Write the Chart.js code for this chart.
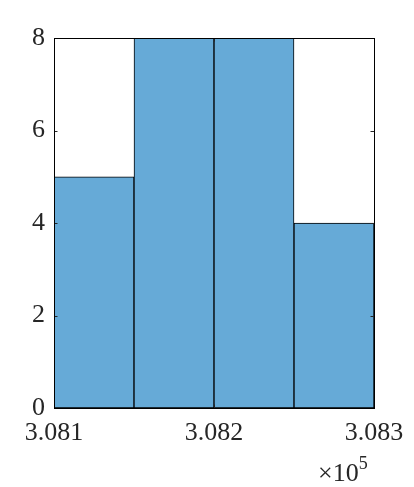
<!DOCTYPE html>
<html>
<head>
<meta charset="utf-8">
<script src="https://cdn.jsdelivr.net/npm/chart.js@4/dist/chart.umd.min.js"></script>
<style>
html,body{margin:0;padding:0;background:#fff;}
#wrap{width:414px;height:487px;}
</style>
</head>
<body>
<div id="wrap"><canvas id="c" width="414" height="487"></canvas></div>
<script>
// Histogram data (x in raw units; axis shows x / 1e5)
const binEdges = [308100, 308150, 308200, 308250, 308300];
const counts = [5, 8, 8, 4];
const yTicks = [0, 2, 4, 6, 8];
const xTicks = [308100, 308200, 308300];
const exponentLabel = ['\u00d710', '5'];

const points = counts.map((c, i) => ({ x: (binEdges[i] + binEdges[i + 1]) / 2, y: c }));
const FONT = "Liberation Serif, Times New Roman, serif";

const boxPlugin = {
  id: 'box',
  afterDatasetsDraw(chart) {
    const { ctx, chartArea: a, scales } = chart;
    ctx.save();
    ctx.strokeStyle = '#262626';
    ctx.lineWidth = 1;
    const tl = 3.5;
    ctx.beginPath();
    yTicks.forEach(v => {
      const y = Math.round(scales.y.getPixelForValue(v)) + 0.5;
      ctx.moveTo(a.left, y); ctx.lineTo(a.left + tl, y);
      ctx.moveTo(a.right, y); ctx.lineTo(a.right - tl, y);
    });
    xTicks.forEach(v => {
      const x = Math.round(scales.x.getPixelForValue(v)) + 0.5;
      ctx.moveTo(x, a.bottom); ctx.lineTo(x, a.bottom - tl);
      ctx.moveTo(x, a.top); ctx.lineTo(x, a.top + tl);
    });
    ctx.stroke();
    ctx.strokeStyle = '#000';
    ctx.strokeRect(Math.round(a.left) + 0.5, Math.round(a.top) + 0.5,
      Math.round(a.right - a.left), Math.round(a.bottom - a.top));
    // exponent label
    ctx.fillStyle = '#262626';
    ctx.textBaseline = 'alphabetic';
    ctx.textAlign = 'left';
    ctx.font = '26px ' + FONT;
    const bx = 318, by = 481;
    ctx.fillText(exponentLabel[0], bx, by);
    const w = ctx.measureText(exponentLabel[0]).width;
    ctx.font = '18px ' + FONT;
    ctx.fillText(exponentLabel[1], bx + w, by - 12);
    ctx.restore();
  }
};

new Chart(document.getElementById('c'), {
  type: 'bar',
  data: {
    datasets: [{
      data: points,
      backgroundColor: '#66aad7',
      borderColor: '#000',
      borderWidth: 1,
      barPercentage: 1,
      categoryPercentage: 1,
      borderSkipped: false
    }]
  },
  options: {
    responsive: false,
    animation: false,
    devicePixelRatio: 1,
    layout: { padding: { left: 0, right: 40, top: 38, bottom: 0 } },
    plugins: { legend: { display: false }, tooltip: { enabled: false } },
    scales: {
      x: {
        type: 'linear',
        min: binEdges[0],
        max: binEdges[binEdges.length - 1],
        offset: false,
        grid: { display: false, drawTicks: false },
        border: { display: false },
        afterBuildTicks(scale) { scale.ticks = xTicks.map(v => ({ value: v })); },
        afterFit(scale) { scale.height = 79; },
        ticks: {
          color: '#262626',
          font: { family: FONT, size: 26 },
          padding: 10,
          maxRotation: 0,
          autoSkip: false,
          callback: v => (v / 1e5).toFixed(3)
        }
      },
      y: {
        min: 0,
        max: 8,
        grid: { display: false, drawTicks: false },
        border: { display: false },
        afterBuildTicks(scale) { scale.ticks = yTicks.map(v => ({ value: v })); },
        afterFit(scale) { scale.width = 54; },
        ticks: {
          color: '#262626',
          font: { family: FONT, size: 26 },
          padding: 9,
          callback: v => String(v)
        }
      }
    }
  },
  plugins: [boxPlugin]
});
</script>
</body>
</html>
